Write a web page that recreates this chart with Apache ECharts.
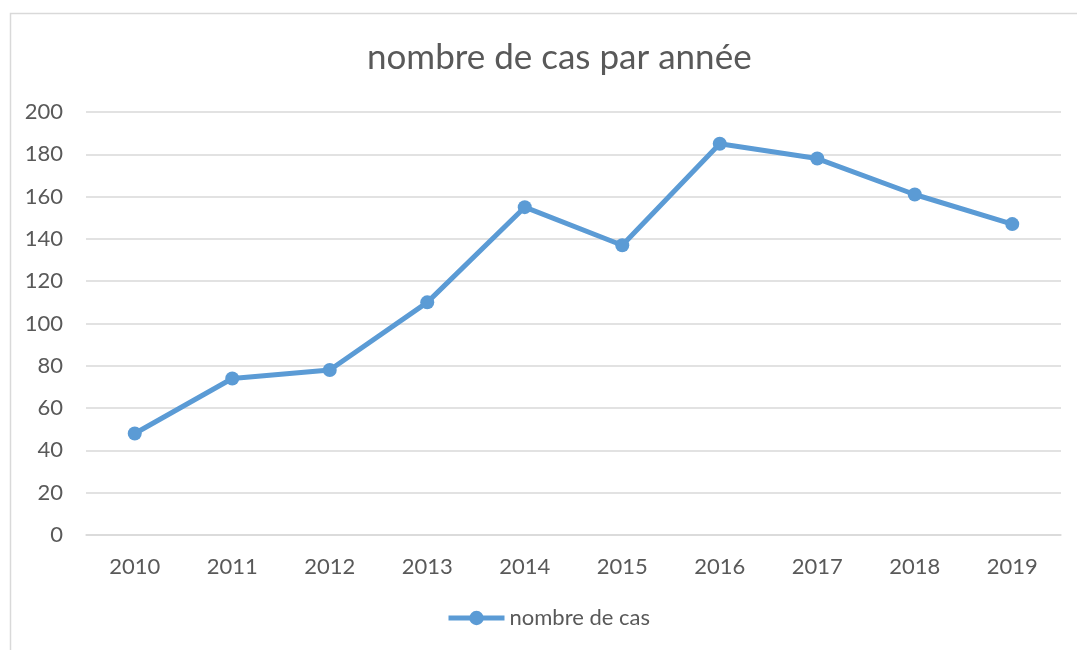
<!DOCTYPE html>
<html>
<head>
<meta charset="utf-8">
<script src="https://cdn.jsdelivr.net/npm/echarts@6/dist/echarts.min.js"></script>
<style>
  html, body { margin: 0; padding: 0; background: #fff; }
  #chart { width: 1077px; height: 650px; }
</style>
</head>
<body>
<div id="chart"></div>
<script>
// data
const years = ['2010', '2011', '2012', '2013', '2014', '2015', '2016', '2017', '2018', '2019'];
const cases = [48, 74, 78, 110, 155, 137, 185, 178, 161, 147];
const seriesName = 'nombre de cas';
const chartTitle = 'nombre de cas par année';

const textColor = '#595959';
const gridColor = '#d9d9d9';
const lineColor = '#5b9bd5';
const font = 'Lato, "Open Sans", sans-serif';

const chart = echarts.init(document.getElementById('chart'));

chart.setOption({
  animation: false,
  textStyle: { fontFamily: font },
  graphic: [{
    // outer chart frame, cut off at right and bottom like the screenshot
    type: 'rect',
    shape: { x: 10.5, y: 13.5, width: 1200, height: 800 },
    style: { fill: 'none', stroke: gridColor, lineWidth: 1.5 },
    silent: true
  }],
  title: {
    text: chartTitle,
    left: 362,
    top: 35,
    textStyle: {
      color: textColor,
      fontSize: 35,
      fontWeight: 'normal',
      fontFamily: font
    }
  },
  grid: {
    left: 86,
    right: 16,
    top: 112,
    bottom: 115
  },
  legend: {
    data: [seriesName],
    bottom: 16,
    left: 441,
    itemWidth: 56,
    itemHeight: 18,
    lineStyle: { width: 5 },
    textStyle: { color: textColor, fontSize: 22, fontFamily: font }
  },
  xAxis: {
    type: 'category',
    data: years,
    boundaryGap: true,
    axisLine: { lineStyle: { color: gridColor, width: 1.5 } },
    axisTick: { show: false },
    axisLabel: { color: textColor, fontSize: 22, margin: 21 }
  },
  yAxis: {
    type: 'value',
    min: 0,
    max: 200,
    interval: 20,
    axisLine: { show: false },
    axisTick: { show: false },
    axisLabel: { color: textColor, fontSize: 22, margin: 23 },
    splitLine: { lineStyle: { color: gridColor, width: 1.5 } }
  },
  series: [{
    name: seriesName,
    type: 'line',
    data: cases,
    symbol: 'circle',
    symbolSize: 14,
    itemStyle: { color: lineColor },
    lineStyle: { color: lineColor, width: 5 }
  }]
});
</script>
</body>
</html>
